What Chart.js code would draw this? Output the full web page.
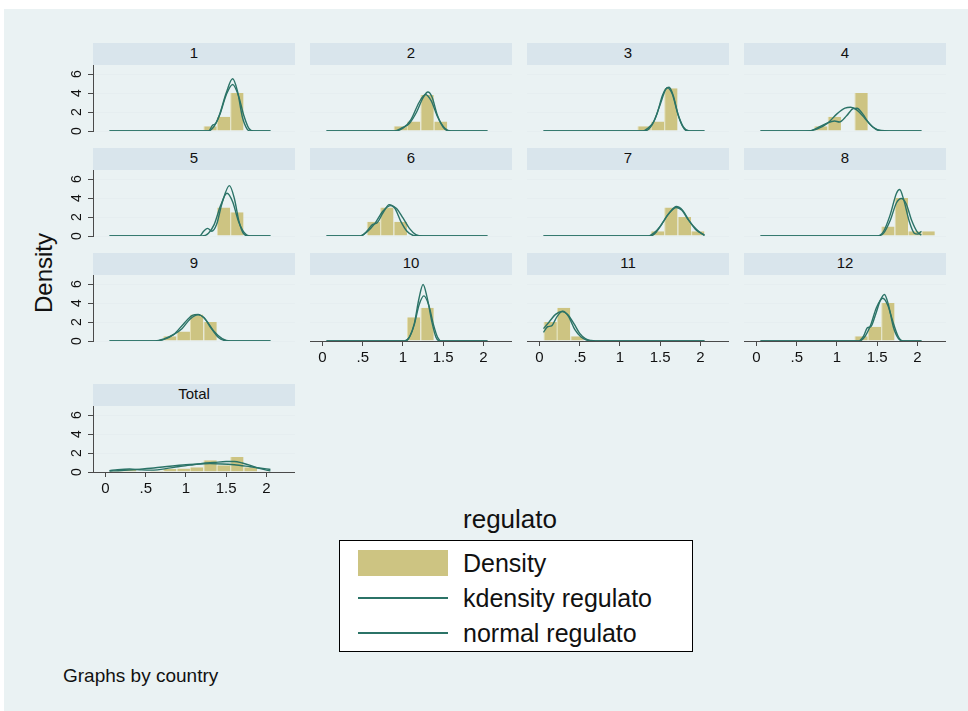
<!DOCTYPE html>
<html>
<head>
<meta charset="utf-8">
<script src="https://cdn.jsdelivr.net/npm/chart.js@4.4.1/dist/chart.umd.min.js"></script>
<style>
  html, body { margin: 0; padding: 0; background: #ffffff; }
  body { width: 968px; height: 711px; position: relative; overflow: hidden;
         font-family: "Liberation Sans", Arial, sans-serif; color: #111; }
  #region { position: absolute; left: 4px; top: 9px; right: 0; bottom: 0; background: #eaf2f3; }
  .strip { position: absolute; height: 22px; background: #d9e5ec; text-align: center;
           font-size: 15px; line-height: 19px; color: #111; }
  .panel { position: absolute; }
  .panel canvas { display: block; }
  #ytitle { position: absolute; left: 44px; top: 273px; transform: translate(-50%, -50%) rotate(-90deg);
            font-size: 24px; white-space: nowrap; }
  #xtitle { position: absolute; left: 410px; width: 200px; top: 504px; text-align: center; font-size: 26px; line-height: 30px; }
  #legend { position: absolute; left: 339px; top: 540px; width: 352px; height: 110px; background: #fff;
            border: 1px solid #000; }
  .lg-key { position: absolute; left: 18px; width: 90px; }
  .lg-text { position: absolute; left: 123px; font-size: 25px; line-height: 28px; white-space: nowrap; }
  #note { position: absolute; left: 63px; top: 665px; font-size: 19px; line-height: 22px; }
</style>
</head>
<body>
<div id="region"></div>
<div id="ytitle">Density</div>
<div id="xtitle">regulato</div>
<div id="legend">
  <div class="lg-key" style="top:9px;height:26px;background:#cdc482;"></div>
  <div class="lg-text" style="top:8px;">Density</div>
  <div class="lg-key" style="top:56px;height:2px;background:#2b7367;"></div>
  <div class="lg-text" style="top:43px;">kdensity regulato</div>
  <div class="lg-key" style="top:91px;height:2px;background:#2b7367;"></div>
  <div class="lg-text" style="top:78px;">normal regulato</div>
</div>
<div id="note">Graphs by country</div>

<script>
// ---- data -------------------------------------------------------------
const countryLabels = ['1', '2', '3', '4', '5', '6', '7', '8', '9', '10', '11', '12', 'Total'];
// histogram bin centres (bins of width 1/6 starting at 0.05)
const binCenters = [0.133, 0.3, 0.467, 0.633, 0.8, 0.967, 1.133, 1.3, 1.467, 1.633, 1.8, 1.967, 2.133];
const xTickValues = [0, 0.5, 1, 1.5, 2];
const xTickLabels = ['0', '.5', '1', '1.5', '2'];
const yTickValues = [0, 2, 4, 6];
const yTickLabels = ['0', '2', '4', '6'];

// histogram densities per country
const hist1  = [0, 0, 0, 0, 0, 0, 0, 0.5, 1.5, 4.0, 0, 0, 0];
const hist2  = [0, 0, 0, 0, 0, 0.5, 1.0, 3.8, 1.0, 0, 0, 0, 0];
const hist3  = [0, 0, 0, 0, 0, 0, 0, 0.5, 1.0, 4.5, 0, 0, 0];
const hist4  = [0, 0, 0, 0, 0.5, 1.5, 0, 4.0, 0, 0, 0, 0, 0];
const hist5  = [0, 0, 0, 0, 0, 0, 0, 0, 3.0, 2.5, 0, 0, 0];
const hist6  = [0, 0, 0, 1.5, 3.0, 1.5, 0, 0, 0, 0, 0, 0, 0];
const hist7  = [0, 0, 0, 0, 0, 0, 0, 0, 0.5, 3.0, 2.0, 0.5, 0];
const hist8  = [0, 0, 0, 0, 0, 0, 0, 0, 0, 1.0, 4.0, 0.5, 0.5];
const hist9  = [0, 0, 0, 0, 0.5, 1.0, 2.8, 2.0, 0, 0, 0, 0, 0];
const hist10 = [0, 0, 0, 0, 0, 0, 2.5, 3.5, 0, 0, 0, 0, 0];
const hist11 = [2.0, 3.5, 0.5, 0, 0, 0, 0, 0, 0, 0, 0, 0, 0];
const hist12 = [0, 0, 0, 0, 0, 0, 0, 0.5, 1.5, 4.0, 0, 0, 0];
const histTotal = [0.17, 0.29, 0.04, 0.13, 0.33, 0.38, 0.5, 1.25, 0.71, 1.58, 0.5, 0.08, 0.04];

// kernel density curves, [regulato, density]
const kd1  = [[0.05,0],[1.28,0],[1.33,0.6],[1.37,0.8],[1.42,1.8],[1.5,4.0],[1.58,5.5],[1.64,4.2],[1.7,1.5],[1.76,0.2],[1.8,0],[2.05,0]];
const kd2  = [[0.05,0],[0.9,0],[0.98,0.3],[1.08,0.8],[1.17,2.0],[1.25,3.5],[1.31,4.1],[1.36,3.6],[1.43,1.6],[1.5,0.4],[1.58,0],[2.05,0]];
const kd3  = [[0.05,0],[1.28,0],[1.35,0.3],[1.42,1.0],[1.5,2.8],[1.57,4.4],[1.61,4.6],[1.66,3.8],[1.73,1.5],[1.8,0.2],[1.85,0],[2.05,0]];
const kd4  = [[0.05,0],[0.65,0],[0.75,0.3],[0.87,0.8],[0.97,1.05],[1.03,0.95],[1.12,1.6],[1.2,2.35],[1.25,2.4],[1.32,1.8],[1.4,0.8],[1.48,0.2],[1.55,0],[2.05,0]];
const kd5  = [[0.05,0],[1.17,0],[1.22,0.5],[1.27,0.8],[1.32,0.5],[1.38,1.2],[1.45,3.5],[1.54,5.3],[1.6,4.0],[1.66,1.5],[1.72,0.2],[1.78,0],[2.05,0]];
const kd6  = [[0.05,0],[0.48,0],[0.55,0.5],[0.62,1.2],[0.68,1.4],[0.75,2.4],[0.83,3.3],[0.9,2.9],[0.97,1.6],[1.05,0.5],[1.13,0.05],[1.2,0],[2.05,0]];
const kd7  = [[0.05,0],[1.35,0],[1.42,0.3],[1.5,1.0],[1.6,2.3],[1.7,3.0],[1.77,2.7],[1.85,1.7],[1.95,0.7],[2.05,0.05]];
const kd8  = [[0.05,0],[1.5,0],[1.58,0.5],[1.66,2.2],[1.74,4.5],[1.78,4.9],[1.83,3.8],[1.9,1.5],[1.96,0.3],[2.0,0.2],[2.05,0.5]];
const kd9  = [[0.05,0],[0.62,0],[0.72,0.2],[0.85,0.7],[0.95,1.3],[1.05,2.3],[1.15,2.75],[1.22,2.5],[1.3,1.5],[1.4,0.4],[1.48,0.05],[1.55,0],[2.05,0]];
const kd10 = [[0.05,0],[1.03,0],[1.08,0.4],[1.14,1.8],[1.2,4.5],[1.25,5.95],[1.3,4.6],[1.36,2.0],[1.41,0.4],[1.46,0],[2.05,0]];
const kd11 = [[0.05,0.9],[0.1,1.5],[0.15,1.6],[0.22,2.6],[0.29,3.15],[0.36,2.6],[0.44,1.2],[0.52,0.4],[0.6,0.05],[0.65,0],[2.05,0]];
const kd12 = [[0.05,0],[1.27,0],[1.33,0.5],[1.38,1.4],[1.42,1.5],[1.48,2.8],[1.54,4.3],[1.59,4.9],[1.64,3.8],[1.7,1.5],[1.76,0.3],[1.82,0],[2.05,0]];
const kdTotal = [[0.05,0.15],[0.15,0.25],[0.3,0.32],[0.45,0.22],[0.6,0.2],[0.75,0.35],[0.9,0.55],[1.05,0.72],[1.2,0.9],[1.35,1.0],[1.5,1.1],[1.6,1.1],[1.7,0.95],[1.8,0.7],[1.9,0.4],[2.0,0.2],[2.05,0.12]];

// fitted normal curves, [regulato, density]
const norm1  = [[0.05,0],[1.28,0],[1.35,0.5],[1.42,1.7],[1.5,3.8],[1.58,4.9],[1.65,3.8],[1.72,1.6],[1.78,0.3],[1.84,0],[2.05,0]];
const norm2  = [[0.05,0],[0.9,0],[1.0,0.3],[1.1,1.2],[1.2,3.0],[1.28,3.85],[1.35,3.2],[1.43,1.5],[1.52,0.3],[1.6,0],[2.05,0]];
const norm3  = [[0.05,0],[1.3,0],[1.38,0.4],[1.46,1.8],[1.53,3.8],[1.59,4.55],[1.65,3.9],[1.72,1.8],[1.79,0.4],[1.86,0],[2.05,0]];
const norm4  = [[0.05,0],[0.6,0],[0.75,0.2],[0.88,0.8],[1.0,1.8],[1.1,2.4],[1.17,2.5],[1.25,2.2],[1.35,1.3],[1.45,0.4],[1.55,0.05],[1.65,0],[2.05,0]];
const norm5  = [[0.05,0],[1.2,0],[1.28,0.3],[1.35,1.2],[1.43,3.2],[1.51,4.5],[1.58,3.6],[1.65,1.6],[1.72,0.4],[1.8,0],[2.05,0]];
const norm6  = [[0.05,0],[0.45,0],[0.55,0.4],[0.65,1.3],[0.75,2.6],[0.85,3.2],[0.92,2.9],[1.0,1.9],[1.08,0.8],[1.16,0.15],[1.25,0],[2.05,0]];
const norm7  = [[0.05,0],[1.38,0],[1.45,0.4],[1.53,1.4],[1.62,2.5],[1.7,3.1],[1.78,2.7],[1.86,1.6],[1.95,0.6],[2.05,0.1]];
const norm8  = [[0.05,0],[1.5,0],[1.58,0.3],[1.66,1.6],[1.74,3.5],[1.8,3.95],[1.86,3.4],[1.93,1.6],[2.0,0.4],[2.05,0.1]];
const norm9  = [[0.05,0],[0.6,0],[0.72,0.15],[0.85,0.7],[0.97,1.8],[1.08,2.7],[1.15,2.8],[1.25,2.2],[1.35,1.0],[1.45,0.25],[1.55,0],[2.05,0]];
const norm10 = [[0.05,0],[1.02,0],[1.08,0.4],[1.14,1.7],[1.2,3.8],[1.26,4.75],[1.32,3.8],[1.38,1.7],[1.43,0.4],[1.48,0],[2.05,0]];
const norm11 = [[0.05,1.3],[0.12,2.0],[0.2,2.8],[0.28,3.1],[0.35,2.8],[0.43,1.8],[0.5,0.8],[0.57,0.25],[0.64,0.05],[0.7,0],[2.05,0]];
const norm12 = [[0.05,0],[1.28,0],[1.35,0.5],[1.42,1.7],[1.49,3.5],[1.57,4.5],[1.63,3.8],[1.7,1.9],[1.76,0.5],[1.82,0],[2.05,0]];
const normTotal = [[0.05,0.1],[0.2,0.16],[0.4,0.28],[0.6,0.42],[0.8,0.6],[1.0,0.76],[1.15,0.85],[1.3,0.88],[1.45,0.85],[1.6,0.76],[1.8,0.55],[2.0,0.33],[2.05,0.28]];

const histograms = [hist1, hist2, hist3, hist4, hist5, hist6, hist7, hist8, hist9, hist10, hist11, hist12, histTotal];
const kdCurves = [kd1, kd2, kd3, kd4, kd5, kd6, kd7, kd8, kd9, kd10, kd11, kd12, kdTotal];
const normalCurves = [norm1, norm2, norm3, norm4, norm5, norm6, norm7, norm8, norm9, norm10, norm11, norm12, normTotal];

// ---- layout & style -----------------------------------------------------
const colLeft = [93, 310, 527, 744];
const rowTop = [65, 170, 275, 406];
const plotW = 202, plotH = 66, stripH = 22, yAxisW = 32, xAxisH = 32, bottomRoom = 8;
const barFill = '#cdc482';
const barEdge = '#e4deb0';
const curveColor = '#2b7367';
const axisColor = '#4a4a4a';
const gridColor = '#e6eef0';
const fontFamily = '"Liberation Sans", Arial, sans-serif';

function toPoints(pairs) { return pairs.map(([x, y]) => ({ x, y })); }

countryLabels.forEach((name, idx) => {
  const col = idx % 4, row = Math.floor(idx / 4);
  const hasY = col === 0;
  const hasX = idx >= 9;
  const belowH = hasX ? xAxisH : bottomRoom;

  const strip = document.createElement('div');
  strip.className = 'strip';
  strip.style.left = colLeft[col] + 'px';
  strip.style.top = (rowTop[row] - stripH) + 'px';
  strip.style.width = plotW + 'px';
  strip.textContent = name;
  document.body.appendChild(strip);

  const w = plotW + (hasY ? yAxisW : 0);
  const h = plotH + belowH;
  const holder = document.createElement('div');
  holder.className = 'panel';
  holder.style.left = (colLeft[col] - (hasY ? yAxisW : 0)) + 'px';
  holder.style.top = rowTop[row] + 'px';
  const canvas = document.createElement('canvas');
  canvas.width = w; canvas.height = h;
  canvas.style.width = w + 'px'; canvas.style.height = h + 'px';
  holder.appendChild(canvas);
  document.body.appendChild(holder);

  new Chart(canvas, {
    type: 'bar',
    data: {
      datasets: [
        {
          type: 'line', label: 'kdensity regulato', order: 0,
          data: toPoints(kdCurves[idx]),
          borderColor: curveColor, borderWidth: 1.4, pointRadius: 0,
          tension: 0.4, cubicInterpolationMode: 'monotone', fill: false
        },
        {
          type: 'line', label: 'normal regulato', order: 1,
          data: toPoints(normalCurves[idx]),
          borderColor: curveColor, borderWidth: 1.4, pointRadius: 0,
          tension: 0.4, cubicInterpolationMode: 'monotone', fill: false
        },
        {
          type: 'bar', label: 'Density', order: 2,
          data: binCenters.map((x, i) => ({ x, y: histograms[idx][i] })),
          backgroundColor: (c) => (c.raw && c.raw.y > 0 ? barFill : 'rgba(0,0,0,0)'),
          borderColor: barEdge,
          borderWidth: (c) => (c.raw && c.raw.y > 0 ? { left: 1, right: 0, top: 0, bottom: 0 } : 0),
          borderSkipped: false,
          inflateAmount: 0,
          barPercentage: 1, categoryPercentage: 1
        }
      ]
    },
    options: {
      responsive: false, animation: false, events: [],
      layout: { padding: 0 },
      plugins: { legend: { display: false }, tooltip: { enabled: false } },
      scales: {
        x: {
          type: 'linear', min: -0.155, max: 2.355, offset: false,
          afterBuildTicks: (s) => { s.ticks = xTickValues.map(v => ({ value: v })); },
          afterFit: (s) => { s.height = belowH; s.paddingLeft = 0; s.paddingRight = 0; },
          grid: { display: hasX, offset: false, drawOnChartArea: false, drawTicks: true, tickLength: 5, tickColor: axisColor },
          border: { display: hasX, color: axisColor, width: 1 },
          ticks: {
            display: hasX, padding: 3, maxRotation: 0, minRotation: 0, autoSkip: false,
            color: '#111', font: { family: fontFamily, size: 15 },
            callback: (v) => xTickLabels[xTickValues.indexOf(v)]
          }
        },
        y: {
          type: 'linear', min: 0, max: 6.95, offset: false,
          afterBuildTicks: (s) => { s.ticks = yTickValues.map(v => ({ value: v })); },
          afterFit: (s) => { s.width = hasY ? yAxisW : 0; s.paddingTop = 0; s.paddingBottom = 0; },
          grid: { display: true, color: gridColor, lineWidth: 1, drawTicks: hasY, tickLength: 5, tickColor: axisColor },
          border: { display: hasY, color: axisColor, width: 1 },
          ticks: {
            display: hasY, padding: 7, minRotation: 90, maxRotation: 90, crossAlign: 'center',
            color: '#111', font: { family: fontFamily, size: 14 },
            callback: (v) => yTickLabels[yTickValues.indexOf(v)]
          }
        }
      }
    }
  });
});
</script>
</body>
</html>
